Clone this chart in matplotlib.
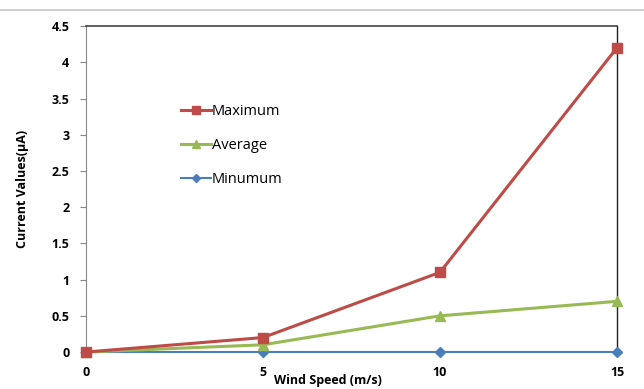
import matplotlib
matplotlib.use("Agg")
import matplotlib.pyplot as plt
from matplotlib.lines import Line2D

wind_speed = [0, 5, 10, 15]
maximum = [0.0, 0.2, 1.1, 4.2]
average = [0.0, 0.1, 0.5, 0.7]
minimum = [0.0, 0.0, 0.0, 0.0]
x_ticks = [0, 5, 10, 15]
y_ticks = [0, 0.5, 1, 1.5, 2, 2.5, 3, 3.5, 4, 4.5]
y_tick_labels = ["0", "0.5", "1", "1.5", "2", "2.5", "3", "3.5", "4", "4.5"]

plt.rcParams['font.family'] = ['Open Sans', 'DejaVu Sans']

fig = plt.figure(figsize=(6.44, 3.89), dpi=100)
ax = fig.add_axes([0.1335, 0.095, 0.8245, 0.838])

fig.add_artist(Line2D([0, 1], [0.974, 0.974], color="#c8c8c8", lw=1.2, transform=fig.transFigure))

ax.plot(wind_speed, minimum, color="#4a7ebb", lw=1.5, marker="D", ms=5, label="Minumum", zorder=3)
ax.plot(wind_speed, average, color="#98b954", lw=2.2, marker="^", ms=7, label="Average", zorder=4)
ax.plot(wind_speed, maximum, color="#be4b48", lw=2.2, marker="s", ms=6.5, label="Maximum", zorder=5)

ax.set_xlim(0, 15)
ax.set_ylim(0, 4.5)
ax.set_xticks(x_ticks)
ax.set_xticklabels([str(v) for v in x_ticks], fontsize=9, fontweight="bold")
ax.set_yticks(y_ticks)
ax.set_yticklabels(y_tick_labels, fontsize=9, fontweight="bold")
ax.tick_params(axis="x", length=0, pad=10)
ax.tick_params(axis="y", length=4, direction="out", color="#888888", pad=8)

ax.spines["left"].set_color("#888888")
ax.spines["left"].set_linewidth(0.8)
ax.spines["top"].set_color("#444444")
ax.spines["top"].set_linewidth(1.2)
ax.spines["right"].set_color("#222222")
ax.spines["right"].set_linewidth(1.0)
ax.spines["bottom"].set_visible(False)
for line in ax.get_lines():
    line.set_clip_on(False)

ax.set_xlabel("Wind Speed (m/s)", fontsize=9, fontweight="bold")
ax.xaxis.set_label_coords(0.455, -0.068)
ax.set_ylabel("Current Values(μA)", fontsize=9, fontweight="bold")
ax.yaxis.set_label_coords(-0.107, 0.5)

handles, labels = ax.get_legend_handles_labels()
order = [2, 1, 0]
leg = ax.legend([handles[i] for i in order], [labels[i] for i in order],
                frameon=False, loc="upper left", bbox_to_anchor=(0.155, 0.8),
                fontsize=10.5, handlelength=2.0, handletextpad=0.1, labelspacing=1.3,
                markerscale=0.9)

fig.savefig("out.png", dpi=100)
